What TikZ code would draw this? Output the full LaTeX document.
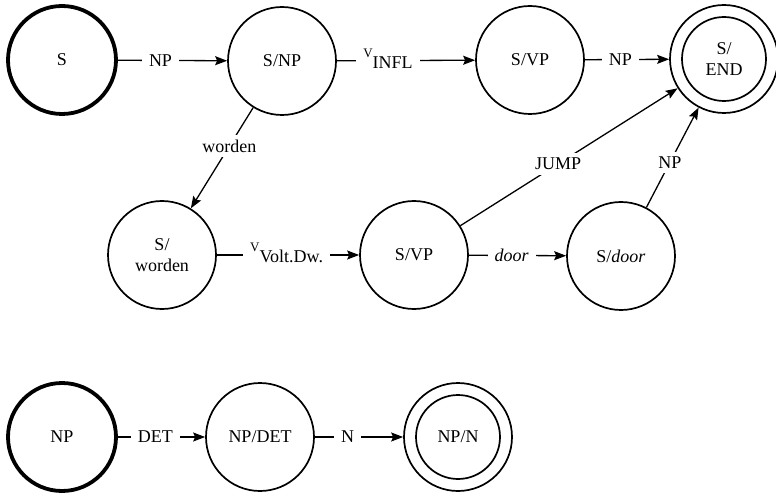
\documentclass[tikz,border=0pt]{standalone}
\usepackage{fontspec}
\setmainfont{Liberation Serif}
\usetikzlibrary{arrows.meta}
\newcommand\vsub[1]{{\fontsize{13}{13}\selectfont V}\raisebox{-11pt}{#1}}
\begin{document}
\begin{tikzpicture}[x=1pt,y=-1pt,
  every node/.style={font=\fontsize{18}{21}\selectfont},
  state/.style={circle,draw,line width=1.7pt,minimum size=108pt,inner sep=0pt,align=center},
  startstate/.style={state,line width=3.8pt},
  lbl/.style={fill=white,inner xsep=7pt,inner ysep=3pt},
  edge/.style={line width=1.3pt,-{Stealth[length=12pt,width=9pt,inset=2pt]}},
  innerring/.style={line width=1.7pt}]
\useasboundingbox (0,0) rectangle (776,494);
% top row
\node[startstate] (S) at (62,60) {S};
\node[state] (SNP) at (282,61) {S/NP};
\node[state] (SVP1) at (530,60) {S/VP};
\node[state] (SEND) at (724,59) {S/\\END};
\draw[innerring] (SEND.center) circle[radius=42pt];
% middle row
\node[state] (Sw) at (162,255) {S/\\worden};
\node[state] (SVP2) at (414,255) {S/VP};
\node[state] (Sdoor) at (621,256) {S/\textit{door}};
% bottom row
\node[startstate] (NP) at (62,437) {NP};
\node[state] (NPDET) at (260,437) {NP/DET};
\node[state] (NPN) at (458,437) {NP/N};
\draw[innerring] (NPN.center) circle[radius=42pt];
% edges
\draw[edge] (S) -- node[lbl,pos=0.39] {NP} (SNP);
\draw[edge] (SNP) -- node[lbl,pos=0.37,yshift=2pt] {\vsub{INFL}} (SVP1);
\draw[edge] (SVP1) -- node[lbl,pos=0.42] {NP} (SEND);
\draw[edge] (SNP) -- node[lbl,pos=0.38,inner xsep=3pt,inner ysep=5pt] {worden} (Sw);
\draw[edge] (Sw) -- node[lbl,pos=0.49,yshift=2pt] {\vsub{Volt.Dw.}} (SVP2);
\draw[edge] (SVP2) -- node[lbl,pos=0.44] {\textit{door}} (Sdoor);
\draw[edge] (SVP2) -- node[lbl,pos=0.45,inner xsep=3pt,inner ysep=5pt] {JUMP} (SEND);
\draw[edge] (Sdoor) -- node[lbl,pos=0.45,inner xsep=3pt,inner ysep=5pt] {NP} (SEND);
\draw[edge] (NP) -- node[lbl,pos=0.43] {DET} (NPDET);
\draw[edge] (NPDET) -- node[lbl,pos=0.37] {N} (NPN);
\end{tikzpicture}
\end{document}
